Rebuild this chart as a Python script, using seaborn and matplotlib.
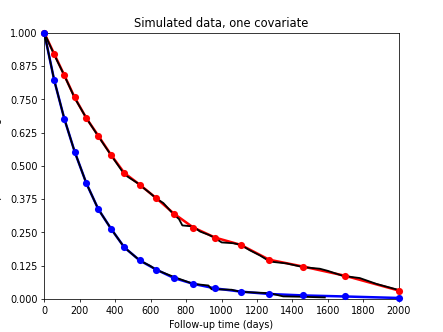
import matplotlib
matplotlib.use("Agg")
import matplotlib.pyplot as plt
import seaborn as sns

# Model-predicted survival at selected follow-up times
times = [0, 56, 113, 171, 237, 304, 377, 452, 539, 631, 732, 841, 965, 1108, 1269, 1462, 1695, 2000]
pred_red = [1.0, 0.921, 0.841, 0.758, 0.680, 0.614, 0.541, 0.473, 0.429, 0.379, 0.320,
            0.268, 0.230, 0.203, 0.147, 0.121, 0.087, 0.031]
pred_blue = [1.0, 0.822, 0.677, 0.554, 0.435, 0.338, 0.263, 0.193, 0.144, 0.110, 0.078,
             0.056, 0.039, 0.027, 0.018, 0.0125, 0.0087, 0.003]

# Empirical (Kaplan-Meier style) curves
km_red_t = [0, 56, 113, 171, 237, 304, 377, 452, 480, 520, 539, 596, 631, 672, 732, 760, 779,
            841, 879, 930, 954, 1001, 1066, 1108, 1161, 1217, 1273, 1367, 1461, 1555, 1600,
            1686, 1780, 1874, 2000]
km_red_s = [1.0, 0.918, 0.840, 0.756, 0.680, 0.612, 0.540, 0.468, 0.455, 0.438, 0.428, 0.398,
            0.378, 0.360, 0.316, 0.300, 0.276, 0.272, 0.253, 0.240, 0.232, 0.212, 0.209, 0.203,
            0.182, 0.163, 0.140, 0.133, 0.119, 0.113, 0.105, 0.086, 0.078, 0.056, 0.033]
km_blue_t = [0, 56, 113, 171, 237, 304, 377, 452, 539, 597, 631, 732, 841, 926, 944, 1057,
             1108, 1273, 1348, 1461, 1583]
km_blue_s = [1.0, 0.822, 0.677, 0.554, 0.435, 0.338, 0.263, 0.193, 0.144, 0.124, 0.109, 0.082,
             0.056, 0.050, 0.036, 0.034, 0.026, 0.021, 0.009, 0.0075, 0.005]

title = "Simulated data, one covariate"
xlabel = "Follow-up time (days)"
ylabel = "Proportion surviving"
yticks = [0, 0.125, 0.25, 0.375, 0.5, 0.625, 0.75, 0.875, 1.0]
xticks = list(range(0, 2001, 200))

fig = plt.figure(figsize=(6.4, 4.8), dpi=443 / 6.4)
ax = fig.add_axes([0.1, 0.1, 0.8, 0.8])

for col, pred, kt, ks in [("#ff0000", pred_red, km_red_t, km_red_s),
                          ("#0000ff", pred_blue, km_blue_t, km_blue_s)]:
    sns.lineplot(x=times, y=pred, color=col, lw=2.6, ax=ax, sort=False,
                 estimator=None, zorder=2)
    sns.lineplot(x=kt, y=ks, color="black", lw=1.9, ax=ax, sort=False,
                 estimator=None, zorder=3)
    sns.scatterplot(x=times, y=pred, color=col, s=55, linewidth=0, ax=ax, zorder=4,
                    clip_on=False)

ax.set_xlim(0, 2000)
ax.set_ylim(0, 1)
ax.set_xticks(xticks)
ax.set_yticks(yticks)
ax.set_yticklabels([f"{v:.3f}" for v in yticks])
ax.set_title(title)
ax.set_xlabel(xlabel)
ax.set_ylabel(ylabel, labelpad=8)

fig.savefig("out.png", dpi=443 / 6.4)
